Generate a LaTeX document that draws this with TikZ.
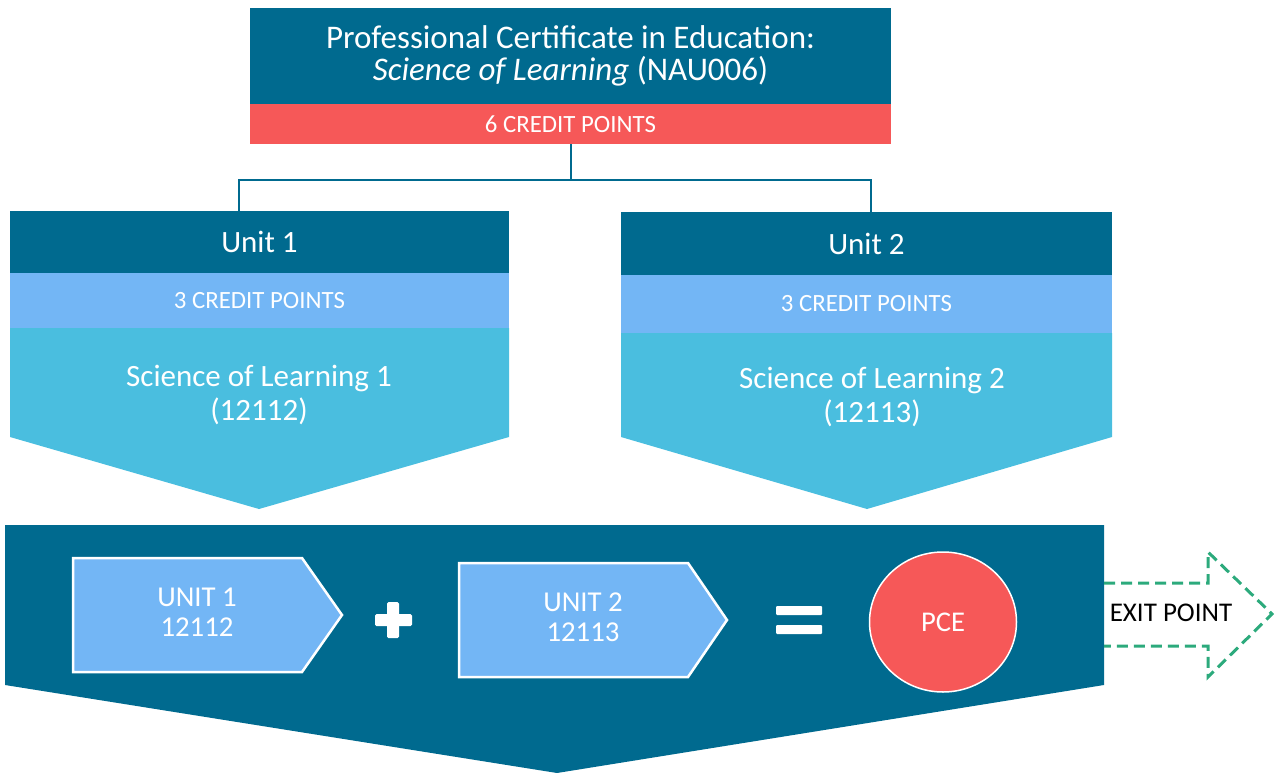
\documentclass[tikz,border=0pt]{standalone}
\usepackage{fontspec}
\setmainfont{Carlito}
\usetikzlibrary{positioning,shapes.geometric}

\definecolor{darkteal}{RGB}{0,106,143}
\definecolor{creditred}{RGB}{246,88,88}
\definecolor{paleblue}{RGB}{115,182,245}
\definecolor{skyblue}{RGB}{74,190,223}
\definecolor{exitgreen}{RGB}{44,170,124}

\tikzset{
  bar/.style={rectangle, inner sep=0pt, outer sep=0pt, text=white},
  titletxt/.style={text=white, align=center, font=\fontsize{33}{32}\selectfont},
  bigtxt/.style={text=white, align=center, font=\fontsize{31}{34}\selectfont},
  smalltxt/.style={text=white, font=\fontsize{24.8}{28}\selectfont},
  unittxt/.style={text=white, align=center, font=\fontsize{28.8}{30}\selectfont},
  unitbox/.style={fill=paleblue, draw=white, line width=2.5},
  link/.style={draw=darkteal, line width=2},
  exitline/.style={draw=exitgreen, line width=3, dash pattern=on 11 off 6}
}

\begin{document}
\begin{tikzpicture}[x=1pt, y=-1pt]
  \useasboundingbox (0,0) rectangle (1277,773);

  % top box
  \node[bar, titletxt, fill=darkteal, minimum width=641, minimum height=96] (title) at (570.5,56)
    {Professional Certificate in Education:\\\textit{Science of Learning} (NAU006)};
  \node[bar, smalltxt, fill=creditred, minimum width=641, minimum height=40] (credit) at (570.5,124) {6 CREDIT POINTS};

  % unit 1
  \fill[skyblue] (10,328) -- (509,328) -- (509,437) -- (259,509) -- (10,437) -- cycle;
  \node[bar, bigtxt, fill=darkteal, minimum width=499, minimum height=62] (hd1) at (259.5,242) {Unit 1};
  \node[bar, smalltxt, fill=paleblue, minimum width=499, minimum height=55] (cp1) at (259.5,300.5) {3 CREDIT POINTS};
  \node[bigtxt] (sol1) at (259,395) {Science of Learning 1\\(12112)};

  % unit 2
  \fill[skyblue] (621,333) -- (1112,333) -- (1112,437) -- (867,509) -- (621,437) -- cycle;
  \node[bar, bigtxt, fill=darkteal, minimum width=491, minimum height=63] (hd2) at (866.5,243.5) {Unit 2};
  \node[bar, smalltxt, fill=paleblue, minimum width=491, minimum height=58] (cp2) at (866.5,304) {3 CREDIT POINTS};
  \node[bigtxt] (sol2) at (872,397) {Science of Learning 2\\(12113)};

  % connectors
  \coordinate (split) at (570.5,180);
  \draw[link] (credit.south) -- (split);
  \draw[link] ([xshift=-20.5]hd1.north) |- (split) -| ([xshift=4.5]hd2.north);

  % bottom block
  \fill[darkteal] (5,525) -- (1104,525) -- (1104,685) -- (557,773) -- (5,685) -- cycle;

  \draw[unitbox] (73,558) -- (302,558) -- (342,615) -- (302,672) -- (73,672) -- cycle;
  \node[unittxt] (u1) at (197,612) {UNIT 1\\12112};

  \fill[white, rounded corners=1.5] (387,602) rectangle (399,638);
  \fill[white, rounded corners=1.5] (375,614) rectangle (412,626);

  \draw[unitbox] (459,563) -- (688,563) -- (727,620) -- (688,677) -- (459,677) -- cycle;
  \node[unittxt] (u2) at (583,617) {UNIT 2\\12113};

  \fill[white, rounded corners=1] (776,606) rectangle (822,615);
  \fill[white, rounded corners=1] (776,625) rectangle (822,634);

  \node[ellipse, fill=creditred, draw=white, line width=1.5, minimum width=147, minimum height=140,
    text=white, font=\fontsize{28.6}{30}\selectfont] (pce) at (943,622) {PCE};

  % exit point
  \draw[exitline] (1104,583) -- (1208,583) -- (1208,552) -- (1272,614) -- (1208,677) -- (1208,646) -- (1104,646);
  \node[font=\fontsize{27}{30}\selectfont] (exit) at (1171,613) {EXIT POINT};
\end{tikzpicture}
\end{document}
